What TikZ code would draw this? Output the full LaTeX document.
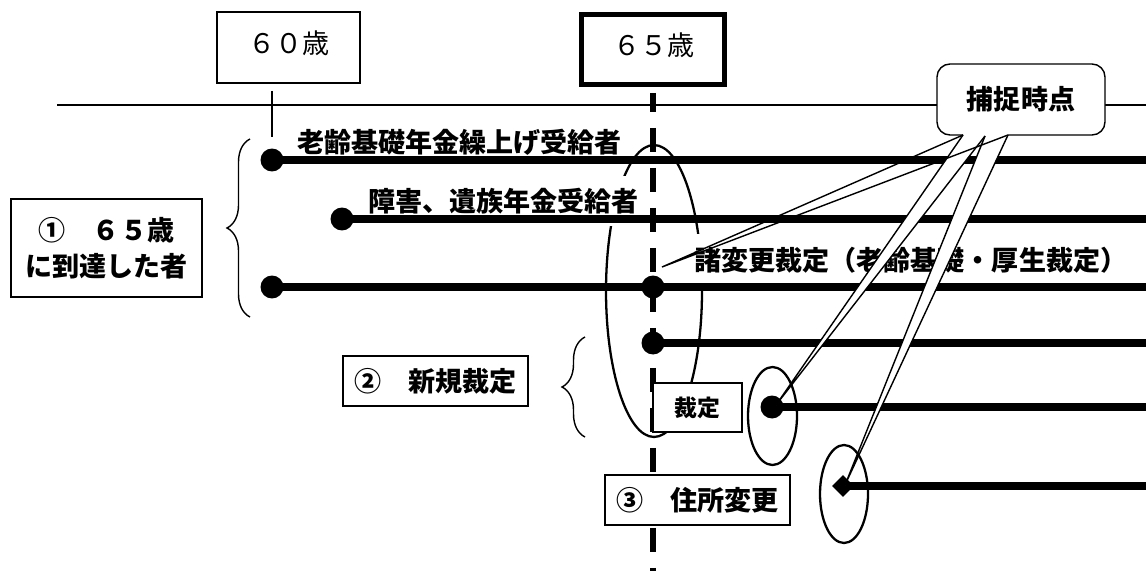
\documentclass[tikz,border=0pt]{standalone}
\usepackage{fontspec}
\setmainfont{Noto Sans CJK JP}
\usetikzlibrary{decorations.pathreplacing,shapes.geometric,positioning}

\begin{document}
\begin{tikzpicture}[x=0.02cm,y=-0.02cm,
    jp/.style={font=\fontsize{15.4pt}{20.5pt}\selectfont\bfseries},
    agebox/.style={draw,jp,fill=white,line width=0.8pt,inner sep=0pt,align=center},
    txt/.style={jp,anchor=west,fill=white,inner xsep=0pt,inner ysep=2pt},
    dot/.style={circle,fill,inner sep=0pt,minimum size=0.46cm},
    life/.style={line width=4.6pt},
    ring/.style={line width=1.3pt},
    brc/.style={decorate,decoration={brace,amplitude=0.46cm},line width=0.8pt},
    pin/.style={line width=0.8pt}]

    \useasboundingbox (0,0) rectangle (1146,571);

    % time axis and age marks
    \draw[line width=0.7pt] (57,105) -- (1146,105);
    \coordinate (T60) at (272,91);
    \draw[line width=0.8pt] (T60) -- ++(0,46);

    % ellipse round the 65 mark
    \draw[ring] (654,291) ellipse [x radius=0.96cm, y radius=2.92cm];

    % labels of the lines
    \node[txt] (lab1) at (297,142) {老齢基礎年金繰上げ受給者};
    \node[txt,inner ysep=0.24cm] (lab2) at (368,201) {障害、遺族年金受給者};
    \node[txt,inner ysep=0.26cm] (lab3) at (694,260) {諸変更裁定（老齢基礎・厚生裁定）};

    % dashed line at 65
    \coordinate (V65) at (653,93);
    \coordinate (V65b) at (653,571);
    \draw[line width=2.9pt,dash pattern=on 0.48cm off 0.32cm,dash phase=0.1cm] (V65) -- (V65b);

    % lines of the recipients
    \node[dot] (d1) at (272,160) {};
    \node[dot] (d2) at (342,219) {};
    \node[dot] (d3) at (272,287) {};
    \node[dot] (d3b) at (653,287) {};
    \node[dot] (d4) at (653,343) {};
    \node[dot] (d5) at (772,407) {};
    \node[diamond,fill,inner sep=0pt,minimum size=0.44cm] (d6) at (843,486) {};
    \coordinate (e1) at (1146,160);
    \coordinate (e2) at (1146,219);
    \coordinate (e3) at (1146,287);
    \coordinate (e4) at (1146,343);
    \coordinate (e5) at (1146,407);
    \coordinate (e6) at (1146,486);
    \foreach \a/\b in {d1/e1,d2/e2,d3/e3,d4/e4,d5/e5,d6/e6}
        \draw[life] (\a.center) -- (\b);

    % boxes
    \node[agebox,minimum width=2.86cm,minimum height=1.42cm] (age60) at (288.5,47.5) {};
    \node[font=\fontsize{15.4pt}{20.5pt}\selectfont] (lbl60) at (289,43) {６０歳};
    \node[agebox,line width=2.8pt,minimum width=2.86cm,minimum height=1.4cm] (age65) at (653,49.5) {};
    \node[font=\fontsize{15.4pt}{20.5pt}\selectfont] (lbl65) at (654,45) {６５歳};
    \node[agebox,minimum width=3.82cm,minimum height=1.96cm] (grp1) at (106.5,248) {①　６５歳\\に到達した者};
    \node[agebox,minimum width=3.7cm,minimum height=1cm] (grp2) at (435.5,381) {②　新規裁定};
    \node[agebox,minimum width=3.7cm,minimum height=1cm] (grp3) at (697.5,500) {③　住所変更};
    \node[agebox,font=\fontsize{13pt}{16pt}\selectfont\bfseries,minimum width=1.78cm,minimum height=0.98cm] (sai) at (697.5,407.5) {裁定};

    % brackets
    \draw[brc] (250,317) -- (250,139);
    \draw[brc] (585,437) -- (585,337);

    % callout
    \fill[white,rounded corners=0.26cm] (937,64) rectangle (1105,135);
    \draw[pin,rounded corners=0.26cm] (963,135) -- (937,135) -- (937,64) -- (1105,64) -- (1105,135) -- (1008,135);
    \node[jp] (cap) at (1021,99) {捕捉時点};
    \coordinate (b1) at (963,135);
    \coordinate (b2) at (985,136);
    \coordinate (b3) at (1008,135);
    \coordinate (p1) at (662,267);
    \coordinate (p2) at (776,405);
    \coordinate (p3) at (845,485);
    \fill[white] (b1) -- (p2) -- (b2) -- cycle;
    \fill[white] (b2) -- (p3) -- (b3) -- cycle;
    \draw[pin] (b1) -- (p1) -- (b3);
    \draw[pin] (b1) -- (p2) -- (b2);
    \draw[pin] (b2) -- (p3) -- (b3);

    % small ellipses
    \draw[ring] (772.5,416) ellipse [x radius=0.49cm, y radius=0.98cm];
    \draw[ring] (844,494) ellipse [x radius=0.48cm, y radius=0.98cm];
\end{tikzpicture}
\end{document}
